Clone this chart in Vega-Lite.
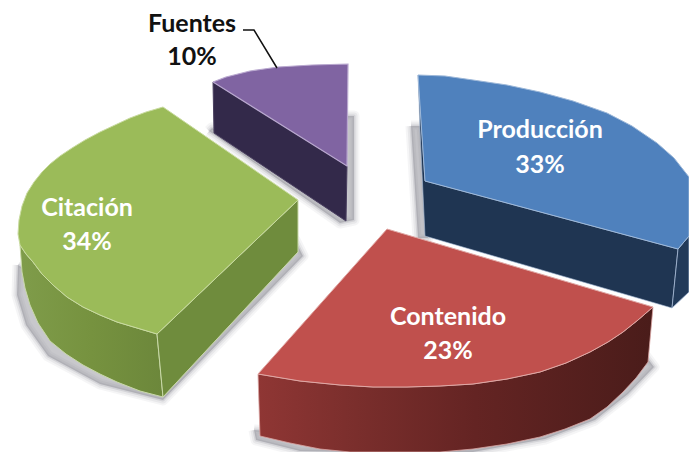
{"$schema":"https://vega.github.io/schema/vega-lite/v6.json","width":689,"height":452,"autosize":{"type":"fit","contains":"padding"},"padding":0,"background":"white","config":{"view":{"stroke":null}},
"datasets":{
"faces":[
{"face":"shadow","part":"a","n":0,"x":18,"y":265},{"face":"shadow","part":"a","n":1,"x":17,"y":295},{"face":"shadow","part":"a","n":2,"x":26,"y":325},{"face":"shadow","part":"a","n":3,"x":48,"y":356},{"face":"shadow","part":"a","n":4,"x":100,"y":384},{"face":"shadow","part":"a","n":5,"x":163,"y":400},{"face":"shadow","part":"a","n":6,"x":303,"y":256},{"face":"shadow","part":"a","n":7,"x":295,"y":240},{"face":"shadow","part":"a","n":8,"x":160,"y":350},{"face":"shadow","part":"a","n":9,"x":18,"y":265},
{"face":"shadow","part":"b","n":0,"x":209,"y":131},{"face":"shadow","part":"b","n":1,"x":340,"y":223},{"face":"shadow","part":"b","n":2,"x":354,"y":220},{"face":"shadow","part":"b","n":3,"x":354,"y":116},{"face":"shadow","part":"b","n":4,"x":340,"y":116},{"face":"shadow","part":"b","n":5,"x":340,"y":200},{"face":"shadow","part":"b","n":6,"x":212,"y":128},{"face":"shadow","part":"b","n":7,"x":209,"y":131},
{"face":"shadow","part":"c","n":0,"x":411,"y":126},{"face":"shadow","part":"c","n":1,"x":420,"y":126},{"face":"shadow","part":"c","n":2,"x":428,"y":238},{"face":"shadow","part":"c","n":3,"x":418,"y":238},{"face":"shadow","part":"c","n":4,"x":411,"y":126},
{"face":"shadow","part":"d","n":0,"x":254,"y":430},{"face":"shadow","part":"d","n":1,"x":256,"y":440},{"face":"shadow","part":"d","n":2,"x":300,"y":451},{"face":"shadow","part":"d","n":3,"x":350,"y":452},{"face":"shadow","part":"d","n":4,"x":473,"y":452},{"face":"shadow","part":"d","n":5,"x":545,"y":439},{"face":"shadow","part":"d","n":6,"x":595,"y":420},{"face":"shadow","part":"d","n":7,"x":628,"y":394},{"face":"shadow","part":"d","n":8,"x":654,"y":367},{"face":"shadow","part":"d","n":9,"x":645,"y":355},{"face":"shadow","part":"d","n":10,"x":400,"y":440},{"face":"shadow","part":"d","n":11,"x":254,"y":430},
{"face":"purpleSide","n":0,"x":213,"y":82},{"face":"purpleSide","n":1,"x":347,"y":166},{"face":"purpleSide","n":2,"x":346,"y":221},{"face":"purpleSide","n":3,"x":214,"y":133},{"face":"purpleSide","n":4,"x":213,"y":82},
{"face":"purpleTop","n":0,"x":213,"y":82},{"face":"purpleTop","n":1,"x":226,"y":77},{"face":"purpleTop","n":2,"x":238,"y":74},{"face":"purpleTop","n":3,"x":250,"y":71},{"face":"purpleTop","n":4,"x":264,"y":69},{"face":"purpleTop","n":5,"x":278,"y":67},{"face":"purpleTop","n":6,"x":295,"y":66},{"face":"purpleTop","n":7,"x":312,"y":65},{"face":"purpleTop","n":8,"x":348,"y":64},{"face":"purpleTop","n":9,"x":347,"y":166},{"face":"purpleTop","n":10,"x":213,"y":82},
{"face":"greenOuter","n":0,"x":20,"y":245},{"face":"greenOuter","n":1,"x":26,"y":254},{"face":"greenOuter","n":2,"x":33,"y":262},{"face":"greenOuter","n":3,"x":42,"y":274},{"face":"greenOuter","n":4,"x":53,"y":285},{"face":"greenOuter","n":5,"x":67,"y":297},{"face":"greenOuter","n":6,"x":83,"y":307},{"face":"greenOuter","n":7,"x":100,"y":315},{"face":"greenOuter","n":8,"x":117,"y":322},{"face":"greenOuter","n":9,"x":137,"y":328},{"face":"greenOuter","n":10,"x":157,"y":334},{"face":"greenOuter","n":11,"x":163,"y":397},{"face":"greenOuter","n":12,"x":140,"y":391},{"face":"greenOuter","n":13,"x":117,"y":382},{"face":"greenOuter","n":14,"x":100,"y":374},{"face":"greenOuter","n":15,"x":83,"y":365},{"face":"greenOuter","n":16,"x":66,"y":354},{"face":"greenOuter","n":17,"x":50,"y":341},{"face":"greenOuter","n":18,"x":38,"y":323},{"face":"greenOuter","n":19,"x":30,"y":305},{"face":"greenOuter","n":20,"x":25,"y":288},{"face":"greenOuter","n":21,"x":22,"y":272},{"face":"greenOuter","n":22,"x":20,"y":245},
{"face":"greenCut","n":0,"x":157,"y":334},{"face":"greenCut","n":1,"x":298,"y":200},{"face":"greenCut","n":2,"x":298,"y":252},{"face":"greenCut","n":3,"x":163,"y":397},{"face":"greenCut","n":4,"x":157,"y":334},
{"face":"greenTop","n":0,"x":163,"y":107},{"face":"greenTop","n":1,"x":146,"y":112},{"face":"greenTop","n":2,"x":130,"y":118},{"face":"greenTop","n":3,"x":115,"y":125},{"face":"greenTop","n":4,"x":100,"y":132},{"face":"greenTop","n":5,"x":85,"y":140},{"face":"greenTop","n":6,"x":72,"y":148},{"face":"greenTop","n":7,"x":60,"y":156},{"face":"greenTop","n":8,"x":50,"y":164},{"face":"greenTop","n":9,"x":42,"y":172},{"face":"greenTop","n":10,"x":34,"y":182},{"face":"greenTop","n":11,"x":27,"y":193},{"face":"greenTop","n":12,"x":22,"y":206},{"face":"greenTop","n":13,"x":19,"y":220},{"face":"greenTop","n":14,"x":18,"y":234},{"face":"greenTop","n":15,"x":20,"y":245},{"face":"greenTop","n":16,"x":26,"y":254},{"face":"greenTop","n":17,"x":33,"y":262},{"face":"greenTop","n":18,"x":42,"y":274},{"face":"greenTop","n":19,"x":53,"y":285},{"face":"greenTop","n":20,"x":67,"y":297},{"face":"greenTop","n":21,"x":83,"y":307},{"face":"greenTop","n":22,"x":100,"y":315},{"face":"greenTop","n":23,"x":117,"y":322},{"face":"greenTop","n":24,"x":137,"y":328},{"face":"greenTop","n":25,"x":157,"y":334},{"face":"greenTop","n":26,"x":298,"y":200},{"face":"greenTop","n":27,"x":163,"y":107},
{"face":"blueSide","n":0,"x":425,"y":181},{"face":"blueSide","n":1,"x":678,"y":249},{"face":"blueSide","n":2,"x":672,"y":308},{"face":"blueSide","n":3,"x":425,"y":236},{"face":"blueSide","n":4,"x":420,"y":130},{"face":"blueSide","n":5,"x":418,"y":75},{"face":"blueSide","n":6,"x":425,"y":181},
{"face":"blueEnd","n":0,"x":678,"y":249},{"face":"blueEnd","n":1,"x":689,"y":236},{"face":"blueEnd","n":2,"x":689,"y":292},{"face":"blueEnd","n":3,"x":672,"y":308},{"face":"blueEnd","n":4,"x":678,"y":249},
{"face":"blueTop","n":0,"x":418,"y":75},{"face":"blueTop","n":1,"x":445,"y":76},{"face":"blueTop","n":2,"x":473,"y":80},{"face":"blueTop","n":3,"x":507,"y":85},{"face":"blueTop","n":4,"x":540,"y":92},{"face":"blueTop","n":5,"x":573,"y":101},{"face":"blueTop","n":6,"x":607,"y":113},{"face":"blueTop","n":7,"x":632,"y":126},{"face":"blueTop","n":8,"x":657,"y":143},{"face":"blueTop","n":9,"x":674,"y":158},{"face":"blueTop","n":10,"x":689,"y":177},{"face":"blueTop","n":11,"x":689,"y":236},{"face":"blueTop","n":12,"x":678,"y":249},{"face":"blueTop","n":13,"x":425,"y":181},{"face":"blueTop","n":14,"x":418,"y":75},
{"face":"redSide","n":0,"x":258,"y":374},{"face":"redSide","n":1,"x":300,"y":381},{"face":"redSide","n":2,"x":340,"y":385},{"face":"redSide","n":3,"x":373,"y":387},{"face":"redSide","n":4,"x":407,"y":387},{"face":"redSide","n":5,"x":440,"y":386},{"face":"redSide","n":6,"x":473,"y":384},{"face":"redSide","n":7,"x":507,"y":379},{"face":"redSide","n":8,"x":540,"y":372},{"face":"redSide","n":9,"x":566,"y":363},{"face":"redSide","n":10,"x":590,"y":352},{"face":"redSide","n":11,"x":608,"y":342},{"face":"redSide","n":12,"x":623,"y":332},{"face":"redSide","n":13,"x":638,"y":320},{"face":"redSide","n":14,"x":653,"y":307},{"face":"redSide","n":15,"x":648,"y":362},{"face":"redSide","n":16,"x":636,"y":378},{"face":"redSide","n":17,"x":623,"y":392},{"face":"redSide","n":18,"x":607,"y":407},{"face":"redSide","n":19,"x":590,"y":419},{"face":"redSide","n":20,"x":565,"y":429},{"face":"redSide","n":21,"x":540,"y":437},{"face":"redSide","n":22,"x":507,"y":444},{"face":"redSide","n":23,"x":473,"y":449},{"face":"redSide","n":24,"x":440,"y":452},{"face":"redSide","n":25,"x":350,"y":452},{"face":"redSide","n":26,"x":320,"y":449},{"face":"redSide","n":27,"x":290,"y":443},{"face":"redSide","n":28,"x":260,"y":436},{"face":"redSide","n":29,"x":258,"y":374},
{"face":"redTop","n":0,"x":387,"y":229},{"face":"redTop","n":1,"x":653,"y":307},{"face":"redTop","n":2,"x":638,"y":320},{"face":"redTop","n":3,"x":623,"y":332},{"face":"redTop","n":4,"x":608,"y":342},{"face":"redTop","n":5,"x":590,"y":352},{"face":"redTop","n":6,"x":566,"y":363},{"face":"redTop","n":7,"x":540,"y":372},{"face":"redTop","n":8,"x":507,"y":379},{"face":"redTop","n":9,"x":473,"y":384},{"face":"redTop","n":10,"x":440,"y":386},{"face":"redTop","n":11,"x":407,"y":387},{"face":"redTop","n":12,"x":373,"y":387},{"face":"redTop","n":13,"x":340,"y":385},{"face":"redTop","n":14,"x":300,"y":381},{"face":"redTop","n":15,"x":258,"y":374},{"face":"redTop","n":16,"x":387,"y":229},
{"face":"leader","n":0,"x":243,"y":30},{"face":"leader","n":1,"x":254,"y":30},{"face":"leader","n":2,"x":277,"y":68}
],
"labels":[
{"name":"Fuentes","share":"10%","x":192,"y":24,"y2":57,"tone":"#111111"},
{"name":"Producción","share":"33%","x":540,"y":130,"y2":165,"tone":"white"},
{"name":"Contenido","share":"23%","x":448,"y":317,"y2":351,"tone":"white"},
{"name":"Citación","share":"34%","x":87,"y":208,"y2":242,"tone":"white"}
]},
"data":{"name":"faces"},
"encoding":{"x":{"field":"x","type":"quantitative","scale":{"domain":[0,689],"nice":false,"zero":false},"axis":null},"y":{"field":"y","type":"quantitative","scale":{"domain":[452,0],"nice":false,"zero":false},"axis":null},"order":{"field":"n","type":"quantitative"}},
"layer":[
{"transform":[{"filter":"datum.face=='shadow'"}],"mark":{"type":"line","clip":true,"stroke":"#9a9aa6","strokeOpacity":0.1,"strokeWidth":11,"strokeJoin":"round"},"encoding":{"detail":{"field":"part"}}},
{"transform":[{"filter":"datum.face=='shadow'"}],"mark":{"type":"line","clip":true,"stroke":"#9a9aa6","strokeOpacity":0.14,"strokeWidth":7,"strokeJoin":"round"},"encoding":{"detail":{"field":"part"}}},
{"transform":[{"filter":"datum.face=='shadow'"}],"mark":{"type":"line","clip":true,"fill":"#85858f","fillOpacity":0.45,"stroke":"#85858f","strokeOpacity":0.2,"strokeWidth":3,"strokeJoin":"round"},"encoding":{"detail":{"field":"part"}}},
{"transform":[{"filter":"datum.face=='purpleSide'"}],"mark":{"type":"line","fill":"#33294a","stroke":"#4a3f60","strokeWidth":1}},
{"transform":[{"filter":"datum.face=='purpleTop'"}],"mark":{"type":"line","fill":"#8064a2","stroke":"#b9a8cf","strokeWidth":1.2}},
{"transform":[{"filter":"datum.face=='greenOuter'"}],"mark":{"type":"line","stroke":"#c9d9a8","strokeWidth":1,"fill":{"gradient":"linear","x1":0,"y1":0,"x2":1,"y2":0,"stops":[{"offset":0,"color":"#7f9c4a"},{"offset":0.5,"color":"#76923f"},{"offset":1,"color":"#6c873b"}]}}},
{"transform":[{"filter":"datum.face=='greenCut'"}],"mark":{"type":"line","fill":"#6f8c3d","stroke":"#c9d9a8","strokeWidth":1}},
{"transform":[{"filter":"datum.face=='greenTop'"}],"mark":{"type":"line","fill":"#9bbb59","stroke":"#c9dba0","strokeWidth":1}},
{"transform":[{"filter":"datum.face=='blueSide'"}],"mark":{"type":"line","fill":"#1f3552","stroke":"#a9bdd8","strokeWidth":0.6}},
{"transform":[{"filter":"datum.face=='blueEnd'"}],"mark":{"type":"line","clip":true,"fill":"#223a59","stroke":"#a9bdd8","strokeWidth":0.8}},
{"transform":[{"filter":"datum.face=='blueTop'"}],"mark":{"type":"line","clip":true,"fill":"#4f81bd","stroke":"#9db8d9","strokeWidth":1}},
{"transform":[{"filter":"datum.face=='redSide'"}],"mark":{"type":"line","clip":true,"stroke":"#d9a3a1","strokeWidth":0.8,"fill":{"gradient":"linear","x1":0,"y1":0,"x2":1,"y2":0,"stops":[{"offset":0,"color":"#8f3634"},{"offset":0.25,"color":"#7a2e2c"},{"offset":0.55,"color":"#642423"},{"offset":1,"color":"#4a1c1a"}]}}},
{"transform":[{"filter":"datum.face=='redTop'"}],"mark":{"type":"line","fill":"#c0504d","stroke":"#e0a8a5","strokeWidth":1}},
{"transform":[{"filter":"datum.face=='leader'"}],"mark":{"type":"line","stroke":"#111111","strokeWidth":1.5}},
{"data":{"name":"labels"},"mark":{"type":"text","font":"Lato","fontWeight":"bold","fontSize":25,"align":"center","baseline":"middle"},"encoding":{"x":{"field":"x","type":"quantitative"},"y":{"field":"y","type":"quantitative"},"order":{"value":null},"text":{"field":"name"},"color":{"field":"tone","type":"nominal","scale":null}}},
{"data":{"name":"labels"},"mark":{"type":"text","font":"Lato","fontWeight":"bold","fontSize":25,"align":"center","baseline":"middle"},"encoding":{"x":{"field":"x","type":"quantitative"},"y":{"field":"y2","type":"quantitative"},"order":{"value":null},"text":{"field":"share"},"color":{"field":"tone","type":"nominal","scale":null}}}
]}
